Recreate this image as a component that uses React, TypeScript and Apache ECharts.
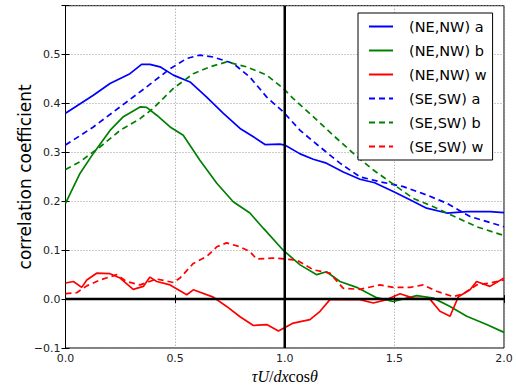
import React, { useEffect, useRef } from "react";
import * as echarts from "echarts";

const seriesNames = ["(NE,NW) a", "(NE,NW) b", "(NE,NW) w", "(SE,SW) a", "(SE,SW) b", "(SE,SW) w"];
const xTicks = [0, 0.5, 1.0, 1.5, 2.0];
const yTicks = [-0.1, 0, 0.1, 0.2, 0.3, 0.4, 0.5];

const neA_x = [0, 0.127, 0.203, 0.294, 0.347, 0.385, 0.431, 0.492, 0.568, 0.644, 0.72, 0.796, 0.857, 0.91, 0.978, 1.0, 1.07, 1.13, 1.19, 1.267, 1.343, 1.41, 1.495, 1.571, 1.647, 1.739, 1.83, 1.936, 2.0];
const neA_y = [0.38, 0.417, 0.441, 0.461, 0.48, 0.48, 0.475, 0.458, 0.444, 0.413, 0.38, 0.349, 0.332, 0.316, 0.317, 0.315, 0.297, 0.286, 0.278, 0.26, 0.245, 0.238, 0.22, 0.203, 0.186, 0.176, 0.179, 0.179, 0.177];

const neB_x = [0, 0.066, 0.127, 0.203, 0.264, 0.34, 0.37, 0.416, 0.477, 0.537, 0.613, 0.69, 0.765, 0.841, 0.902, 0.993, 1.07, 1.146, 1.19, 1.252, 1.328, 1.419, 1.495, 1.602, 1.678, 1.754, 1.83, 1.921, 2.0];
const neB_y = [0.196, 0.257, 0.298, 0.345, 0.373, 0.393, 0.392, 0.376, 0.352, 0.335, 0.284, 0.237, 0.199, 0.176, 0.145, 0.1, 0.07, 0.05, 0.056, 0.036, 0.024, 0.003, -0.005, 0.007, 0.002, -0.015, -0.035, -0.052, -0.068];

const neW_x = [0, 0.036, 0.074, 0.097, 0.142, 0.203, 0.249, 0.309, 0.355, 0.385, 0.416, 0.477, 0.553, 0.583, 0.674, 0.735, 0.796, 0.857, 0.918, 0.971, 1.039, 1.115, 1.161, 1.206, 1.282, 1.343, 1.404, 1.465, 1.526, 1.586, 1.662, 1.708, 1.754, 1.792, 1.845, 1.875, 1.936, 2.0];
const neW_y = [0.033, 0.036, 0.024, 0.039, 0.053, 0.052, 0.043, 0.02, 0.026, 0.045, 0.036, 0.029, 0.009, 0.019, 0.004, -0.015, -0.036, -0.054, -0.052, -0.065, -0.049, -0.042, -0.025, -0.001, -0.001, -0.001, -0.008, -0.001, 0.011, 0.002, 0, -0.025, -0.035, 0.005, 0.019, 0.036, 0.026, 0.043];

const seA_x = [0, 0.127, 0.249, 0.37, 0.477, 0.553, 0.613, 0.674, 0.765, 0.841, 0.918, 0.993, 1.07, 1.161, 1.252, 1.343, 1.434, 1.541, 1.647, 1.739, 1.845, 2.0];
const seA_y = [0.315, 0.352, 0.393, 0.434, 0.471, 0.492, 0.499, 0.495, 0.482, 0.454, 0.413, 0.383, 0.345, 0.311, 0.278, 0.25, 0.24, 0.23, 0.213, 0.196, 0.169, 0.148];

const seB_x = [0, 0.066, 0.157, 0.249, 0.34, 0.4, 0.492, 0.583, 0.659, 0.735, 0.826, 0.918, 0.993, 1.039, 1.13, 1.221, 1.313, 1.404, 1.495, 1.586, 1.678, 1.769, 1.875, 2.0];
const seB_y = [0.265, 0.281, 0.311, 0.345, 0.369, 0.39, 0.431, 0.461, 0.475, 0.485, 0.475, 0.458, 0.431, 0.41, 0.373, 0.335, 0.298, 0.264, 0.235, 0.206, 0.189, 0.17, 0.148, 0.13];

const seW_x = [0, 0.051, 0.097, 0.157, 0.234, 0.279, 0.34, 0.416, 0.492, 0.522, 0.583, 0.644, 0.69, 0.735, 0.796, 0.841, 0.872, 0.948, 1.0, 1.054, 1.13, 1.206, 1.267, 1.343, 1.434, 1.495, 1.571, 1.632, 1.693, 1.769, 1.815, 1.875, 1.936, 2.0];
const seW_y = [0.011, 0.013, 0.027, 0.039, 0.05, 0.036, 0.029, 0.041, 0.034, 0.043, 0.073, 0.087, 0.107, 0.115, 0.107, 0.097, 0.082, 0.084, 0.082, 0.08, 0.06, 0.053, 0.022, 0.02, 0.029, 0.024, 0.024, 0.029, 0.016, 0.005, 0.011, 0.029, 0.033, 0.039];

const zip = (xs: number[], ys: number[]) => xs.map((x, i) => [x, ys[i]]);

export default function App() {
  const ref = useRef<HTMLDivElement>(null);
  useEffect(() => {
    if (!ref.current) return;
    const chart = echarts.init(ref.current, undefined, { renderer: "svg" });
    const mk = (name: string, xs: number[], ys: number[], color: string, dashed: boolean) => ({
      name,
      type: "line",
      data: zip(xs, ys),
      symbol: "none",
      showSymbol: false,
      color,
      lineStyle: { color, width: 1.7, type: dashed ? [6, 4] : "solid" },
      z: 2,
    });
    const fmtY = (v: number) => {
      if (Math.abs(v - 0.6) < 1e-9) return "";
      return v.toFixed(1).replace("-", "\u2212");
    };
    const option: any = {
      animation: false,
      backgroundColor: "#fff",
      grid: { left: 65.5, right: 12, top: 5.7, bottom: 37, show: true, borderColor: "#000", borderWidth: 1, outerBoundsMode: "none", containLabel: false },
      xAxis: [
        {
          type: "value", min: 0, max: 2, interval: 0.5,
          axisLine: { show: true, lineStyle: { color: "#000", width: 1 } },
          axisTick: { show: true, inside: true, length: 4, lineStyle: { color: "#000" } },
          axisLabel: { margin: 5, fontSize: 11, fontFamily: "DejaVu Sans", color: "#222", formatter: (v: number) => v.toFixed(1) },
          splitLine: { show: true, lineStyle: { color: "#999", type: [1, 2], width: 1 } },
          name: "{i|\u03c4U}{r|/}{i|dx}{r|cos}{i|\u03b8}",
          nameLocation: "middle", nameGap: 14,
          nameTextStyle: {
            lineHeight: 16,
            rich: {
              i: { fontFamily: "Liberation Serif", fontStyle: "italic", fontSize: 16, lineHeight: 16, color: "#000" },
              r: { fontFamily: "Liberation Serif", fontSize: 16, lineHeight: 16, color: "#000" },
            },
          },
        },
        {
          type: "value", min: 0, max: 2, interval: 0.5, position: "top",
          axisLine: { show: true, lineStyle: { color: "#000" } },
          axisTick: { show: true, inside: true, length: 4, lineStyle: { color: "#000" } },
          axisLabel: { show: false }, splitLine: { show: false },
        },
      ],
      yAxis: [
        {
          type: "value", min: -0.1, max: 0.6, interval: 0.1,
          axisLine: { show: true, lineStyle: { color: "#000", width: 1 } },
          axisTick: { show: true, inside: true, length: 4, lineStyle: { color: "#000" } },
          axisLabel: { margin: 5, fontSize: 11, fontFamily: "DejaVu Sans", color: "#222", formatter: fmtY },
          splitLine: { show: true, lineStyle: { color: "#999", type: [1, 2], width: 1 } },
          name: "correlation coefficient",
          nameLocation: "middle", nameGap: 32, nameRotate: 90, nameMoveOverlap: false,
          nameTextStyle: { fontFamily: "DejaVu Sans", fontSize: 17, color: "#000" },
        },
        {
          type: "value", min: -0.1, max: 0.6, interval: 0.1, position: "right",
          axisLine: { show: true, lineStyle: { color: "#000" } },
          axisTick: { show: true, inside: true, length: 4, lineStyle: { color: "#000" } },
          axisLabel: { show: false }, splitLine: { show: false },
        },
      ],
      legend: {
        orient: "vertical", left: 358, top: 13,
        padding: [6, 6, 6, 10], itemGap: 9, itemWidth: 24, itemHeight: 14,
        backgroundColor: "#fff", borderColor: "#000", borderWidth: 1,
        itemStyle: { opacity: 0, borderWidth: 0 },
        textStyle: { fontSize: 14.5, fontFamily: "DejaVu Sans", color: "#000", padding: [0, 0, 0, 11] },
        data: seriesNames,
      },
      series: [
        mk(seriesNames[0], neA_x, neA_y, "#0000ff", false),
        mk(seriesNames[1], neB_x, neB_y, "#008000", false),
        mk(seriesNames[2], neW_x, neW_y, "#ff0000", false),
        mk(seriesNames[3], seA_x, seA_y, "#0000ff", true),
        mk(seriesNames[4], seB_x, seB_y, "#008000", true),
        mk(seriesNames[5], seW_x, seW_y, "#ff0000", true),
        {
          name: "zero", type: "line", symbol: "none", silent: true, z: 3,
          data: zip([0, 2], [0, 0]),
          lineStyle: { color: "#000", width: 2.5 },
        },
        {
          name: "unity", type: "line", symbol: "none", silent: true, z: 3,
          data: zip([1, 1], [-0.1, 0.6]),
          lineStyle: { color: "#000", width: 2.5 },
        },
      ],
    };
    chart.setOption(option);
    return () => chart.dispose();
  }, []);
  return <div ref={ref} style={{ width: 516, height: 385, position: "absolute", left: 0, top: 0 }} />;
}
